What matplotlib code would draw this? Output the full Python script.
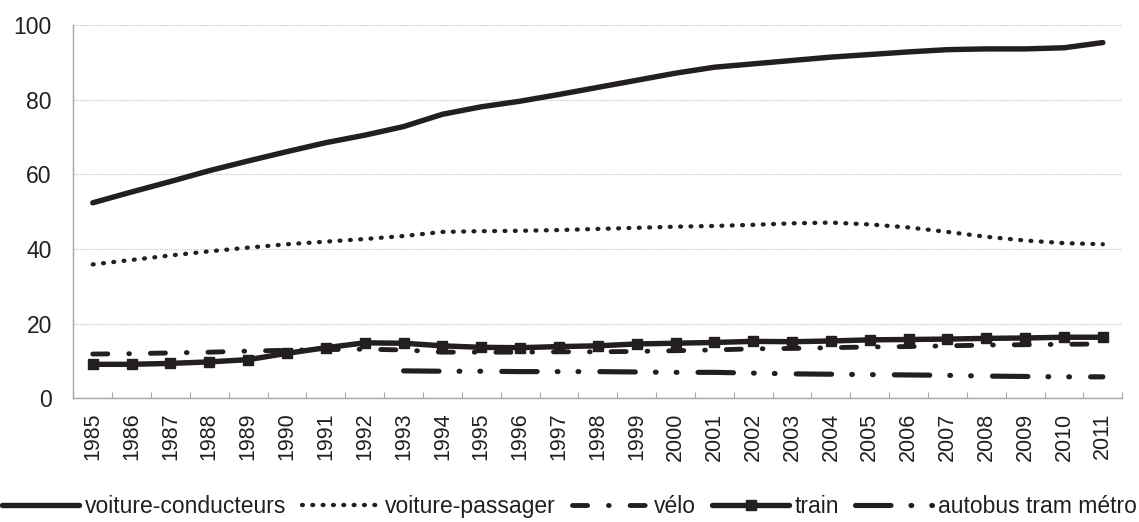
import numpy as np
import matplotlib
matplotlib.use('Agg')
import matplotlib.pyplot as plt

plt.rcParams['font.family'] = ['Liberation Sans', 'DejaVu Sans']

# données
years = list(range(1985, 2012))
conducteurs = [52.4, 55.3, 58.1, 61.0, 63.6, 66.1, 68.5, 70.5, 72.8, 76.1,
               78.1, 79.6, 81.4, 83.3, 85.2, 87.1, 88.7, 89.6, 90.5, 91.4,
               92.1, 92.8, 93.4, 93.6, 93.6, 93.9, 95.3]
passager = [35.9, 37.1, 38.3, 39.4, 40.4, 41.3, 42.0, 42.7, 43.5, 44.6,
            44.8, 44.9, 45.1, 45.4, 45.7, 46.0, 46.2, 46.5, 46.9, 47.1,
            46.6, 45.8, 44.6, 43.3, 42.3, 41.6, 41.3]
velo = [11.9, 12.0, 12.2, 12.4, 12.7, 12.9, 13.1, 13.2, 13.0, 12.4,
        12.4, 12.4, 12.5, 12.5, 12.6, 12.8, 13.0, 13.3, 13.4, 13.6,
        13.8, 13.9, 14.1, 14.3, 14.4, 14.5, 14.6]
train = [9.15, 9.15, 9.4, 9.8, 10.4, 12.1, 13.6, 14.9, 14.8, 14.1,
         13.7, 13.6, 13.9, 14.1, 14.6, 14.8, 15.0, 15.3, 15.2, 15.4,
         15.7, 15.8, 15.9, 16.1, 16.2, 16.4, 16.4]
autobus = [np.nan] * 8 + [7.4, 7.3, 7.3, 7.2, 7.2, 7.2, 7.1, 7.0, 7.0, 6.8,
                          6.6, 6.5, 6.4, 6.3, 6.2, 6.0, 5.9, 5.8, 5.8]
labels = ['voiture-conducteurs', 'voiture-passager', 'vélo', 'train',
          'autobus tram métro']

ink = '#231f20'
x = np.arange(len(years))

fig = plt.figure(figsize=(11.39, 5.22), dpi=100)
ax = fig.add_axes([0.0644, 0.2366, 0.9853 - 0.0644, 0.9521 - 0.2366])

ax.plot(x, conducteurs, color=ink, lw=3.9, solid_capstyle='round',
        label=labels[0])
ax.plot(x, passager, color=ink, lw=3.1, linestyle=(0, (0.2, 2.2)),
        dash_capstyle='round', label=labels[1])
ax.plot(x, velo, color=ink, lw=3.5, linestyle=(0, (3.1, 4.3, 0.15, 4.3)),
        dash_capstyle='round', label=labels[2])
ax.plot(x, train, color=ink, lw=3.9, marker='s', markersize=7.5,
        solid_capstyle='round', label=labels[3])
ax.plot(x, autobus, color=ink, lw=3.7,
        linestyle=(0, (6.9, 3.9, 0.15, 3.9, 0.15, 4.1)),
        dash_capstyle='round', label=labels[4])

ax.set_xlim(-0.5, len(years) - 0.5)
ax.set_ylim(0, 100)
ax.set_yticks(range(0, 101, 20))
ax.grid(axis='y', color='#c4c4c4', lw=0.8, linestyle=(0, (1, 1)))
ax.set_axisbelow(True)

ax.set_xticks(x)
ax.set_xticklabels([str(y) for y in years], rotation=90, fontsize=15.5)
ax.set_xticks(np.arange(0.5, len(years)), minor=True)
ax.tick_params(axis='x', which='major', length=0, pad=10, colors=ink)
ax.tick_params(axis='x', which='minor', direction='in', length=4.3,
               width=0.8, color='#a6a6a6')
ax.tick_params(axis='y', length=0, pad=15.5, labelsize=16.5, colors=ink)

for s in ['top', 'right']:
    ax.spines[s].set_visible(False)
for s in ['left', 'bottom']:
    ax.spines[s].set_color('#a6a6a6')
    ax.spines[s].set_linewidth(1)

fig.legend(loc='center', bbox_to_anchor=(0.5, 0.029), ncol=5, frameon=False,
           fontsize=16.5, handlelength=3.35, handletextpad=0.25,
           columnspacing=0.7, borderpad=0, labelcolor=ink)

fig.savefig('out.png', dpi=100)
